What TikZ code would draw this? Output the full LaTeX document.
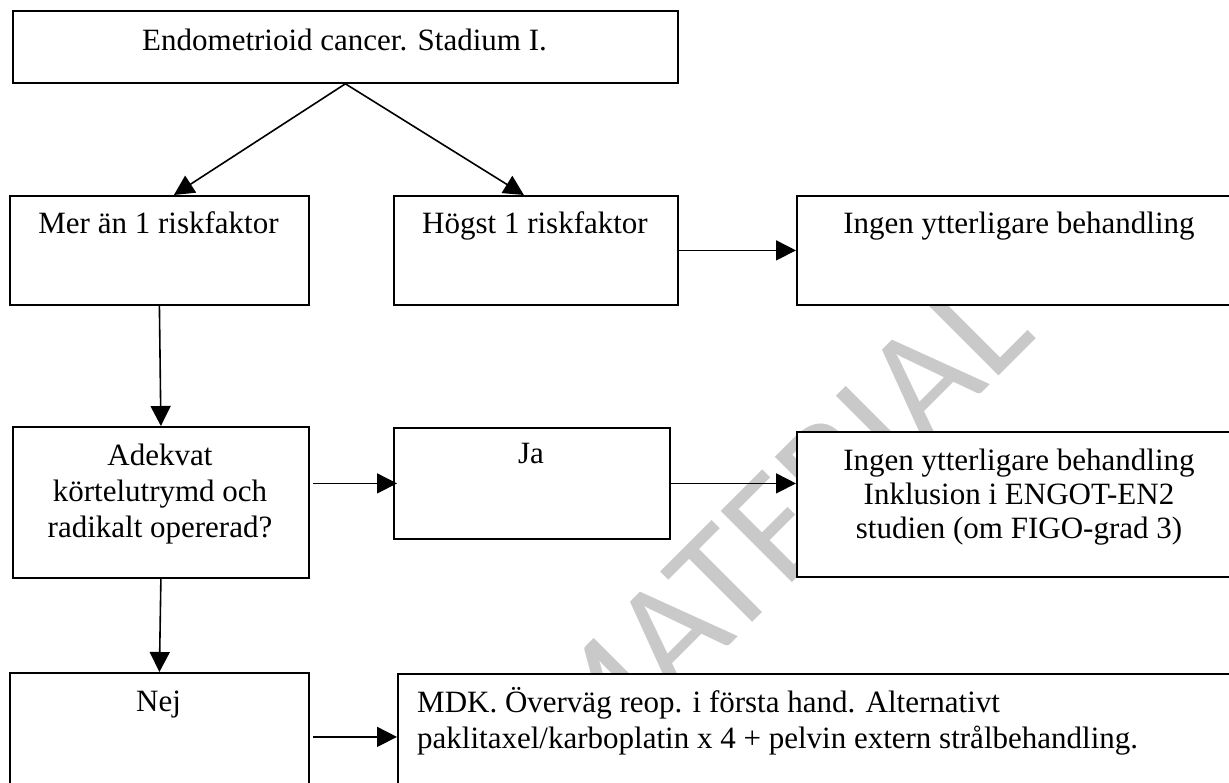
\documentclass[tikz,border=0pt]{standalone}
\usepackage{fontspec}
\setmainfont{Liberation Serif}
\newfontfamily\wmfont{Carlito}
\usetikzlibrary{arrows.meta,calc}
\begin{document}
\begin{tikzpicture}[x=1pt,y=-1pt,
  box/.style={draw=black, line width=1.8pt, fill=white, rectangle, anchor=north west, inner sep=0pt},
  txt/.style={anchor=base, inner sep=0pt, font=\fontsize{31}{36}\selectfont},
  txtl/.style={anchor=base west, inner sep=0pt, font=\fontsize{31}{36}\selectfont},
  arr/.style={line width=1.6pt, -{Triangle[length=20pt,width=20pt]}},
  wm/.style={text=black!21, font=\wmfont\fontsize{157}{157}\selectfont, rotate=45, anchor=base east, inner sep=0pt}]
\useasboundingbox (0,0) rectangle (1229,782);
\clip (0,0) rectangle (1229,782);
\fill[white] (0,0) rectangle (1229,782);
% watermark
\node[wm] (wm) at (1038,337) {MATERIAL};
% boxes
\node[box, minimum width=665pt, minimum height=72pt] (top) at (12,10) {};
\node[box, minimum width=299pt, minimum height=109pt] (mer) at (9,195) {};
\node[box, minimum width=284pt, minimum height=109pt] (hog) at (393,195) {};
\node[box, minimum width=446pt, minimum height=109pt] (ing1) at (796,195) {};
\node[box, minimum width=296pt, minimum height=151pt] (adk) at (12,426) {};
\node[box, minimum width=276pt, minimum height=111pt] (ja) at (393,427) {};
\node[box, minimum width=446pt, minimum height=145pt] (ing2) at (796,431) {};
\node[box, minimum width=299pt, minimum height=128pt] (nej) at (9,672) {};
\node[box, minimum width=860pt, minimum height=127pt] (mdk) at (397,673) {};
% texts
\node[txt] (ttop) at (344.5,50) {Endometrioid cancer. Stadium I.};
\node[txt] (tmer) at (158.5,233) {Mer än 1 riskfaktor};
\node[txt] (thog) at (535,233) {Högst 1 riskfaktor};
\node[txt] (ting1) at (1019,233) {Ingen ytterligare behandling};
\node[txt] (tadka) at (160,465) {Adekvat};
\node[txt] (tadkb) at (160,501) {körtelutrymd och};
\node[txt] (tadkc) at (160,537) {radikalt opererad?};
\node[txt] (tja) at (531,463) {Ja};
\node[txt] (ting2a) at (1019,470) {Ingen ytterligare behandling};
\node[txt] (ting2b) at (1019,504) {Inklusion i ENGOT-EN2};
\node[txt] (ting2c) at (1019,538) {studien (om FIGO-grad 3)};
\node[txt] (tnej) at (158.5,711) {Nej};
\node[txtl] (tmdka) at (417,712) {MDK. Överväg reop. i första hand. Alternativt};
\node[txtl] (tmdkb) at (417,748) {paklitaxel/karboplatin x 4 + pelvin extern strålbehandling.};
% connectors
\draw[arr] (top.south) -- ([xshift=14.5pt]mer.north);
\draw[arr] (top.south) -- ([xshift=-12pt]hog.north);
\draw[arr] (hog.east) -- (ing1.west);
\draw[arr] (mer.south) -- (adk.north);
\draw[arr] ($(adk.east |- ja.west)+(3,0)$) -- ($(ja.west)+(4,0)$);
\draw[arr] (ja.east) -- (ja.east -| ing2.west);
\draw[arr] (adk.south) -- (nej.north);
\draw[arr] ($(nej.east)+(3,0)$) -- (nej.east -| mdk.west);
\end{tikzpicture}
\end{document}
